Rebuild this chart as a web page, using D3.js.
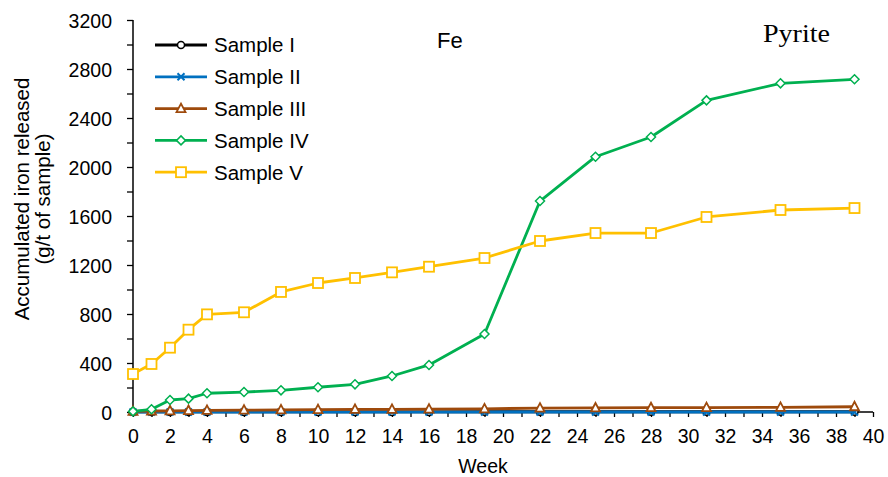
<!DOCTYPE html>
<html>
<head>
<meta charset="utf-8">
<script src="https://cdn.jsdelivr.net/npm/d3@7/dist/d3.min.js"></script>
<style>
  html, body { margin: 0; padding: 0; background: #fff; }
  svg { display: block; }
  text { font-family: "Liberation Sans", Arial, sans-serif; fill: #000; }
</style>
</head>
<body>
<svg id="chart" width="888" height="477"></svg>
<script>
// Sampling weeks
const weeks = [0, 1, 2, 3, 4, 6, 8, 10, 12, 14, 16, 19, 22, 25, 28, 31, 35, 39];

// Accumulated iron released (g/t of sample) per sample
const sampleI   = [1, 1, 1, 1, 1, 1, 1, 1, 1, 1, 1, 2, 2, 2, 2, 2, 2, 2];
const sampleII  = [0, 0, 0, 0, 0, 0, 0, 0, 0, 0, 0, 0, 0, 0, 0, 0, 0, 0];
const sampleIII = [5, 8, 10, 12, 13, 15, 17, 19, 21, 22, 23, 26, 32, 33, 35, 36, 38, 43];
const sampleIV  = [5, 22, 98, 109, 153, 163, 177, 202, 226, 294, 384, 637, 1722, 2084, 2245, 2544, 2683, 2716];
const sampleV   = [310, 392, 525, 672, 797, 814, 980, 1053, 1094, 1140, 1186, 1257, 1396, 1461, 1461, 1592, 1649, 1665];

// Axis ticks
const yTicks = [0, 400, 800, 1200, 1600, 2000, 2400, 2800, 3200];
const xTicks = [0, 2, 4, 6, 8, 10, 12, 14, 16, 18, 20, 22, 24, 26, 28, 30, 32, 34, 36, 38, 40];

const seriesNames = ["Sample I", "Sample II", "Sample III", "Sample IV", "Sample V"];
const seriesValues = [sampleI, sampleII, sampleIII, sampleIV, sampleV];
const seriesColors = ["#000000", "#0070C0", "#9E4A0C", "#00B050", "#FFC000"];
const seriesMarkers = ["circle", "cross", "triangle", "diamond", "square"];

const svg = d3.select("#chart");
const plotLeft = 133, plotRight = 873, plotTop = 20, plotBottom = 412;

const x = d3.scaleLinear().domain([0, 40]).range([plotLeft, plotRight]);
const y = d3.scaleLinear().domain([0, 3200]).range([plotBottom, plotTop]);

// Y axis with minor ticks every 200
const yAxis = d3.axisLeft(y).tickValues(d3.range(0, 3201, 200)).tickSize(6)
  .tickFormat(d => yTicks.includes(d) ? d : "");
const gy = svg.append("g").attr("transform", `translate(${plotLeft},0)`).call(yAxis);
gy.select(".domain").attr("stroke", "#000").attr("stroke-width", 1.5).attr("d", `M0,${plotBottom}V${plotTop}`);
gy.selectAll(".tick line").attr("stroke", "#000").attr("stroke-width", 1.3);
gy.selectAll(".tick text").attr("x", -21).attr("dy", "0.36em")
  .style("font-size", "19.5px").style("font-family", "Liberation Sans, Arial, sans-serif");

// X axis with ticks every week
const xAxis = d3.axisBottom(x).tickValues(d3.range(0, 41, 1)).tickSize(5)
  .tickFormat(d => xTicks.includes(d) ? d : "");
const gx = svg.append("g").attr("transform", `translate(0,${plotBottom})`).call(xAxis);
gx.select(".domain").attr("stroke", "#000").attr("stroke-width", 1.5).attr("d", `M${plotLeft},0H${plotRight}`);
gx.selectAll(".tick line").attr("stroke", "#000").attr("stroke-width", 1.3);
gx.selectAll(".tick text").attr("y", 31).attr("dy", "0")
  .style("font-size", "19.5px").style("font-family", "Liberation Sans, Arial, sans-serif");

// Axis titles
svg.append("text").attr("x", 483).attr("y", 473).attr("text-anchor", "middle")
  .style("font-size", "19.5px").text("Week");
const yt = svg.append("text").attr("transform", "translate(0,199) rotate(-90)")
  .attr("text-anchor", "middle").style("font-size", "20.5px");
yt.append("tspan").attr("x", 0).attr("y", 29).text("Accumulated iron released");
yt.append("tspan").attr("x", 0).attr("y", 50).text("(g/t of sample)");

// Marker drawing
function drawMarker(g, type, color) {
  if (type === "circle") {
    g.append("circle").attr("r", 3.5).attr("fill", "#fff").attr("stroke", color).attr("stroke-width", 1.5);
  } else if (type === "cross") {
    g.append("path").attr("d", "M-3.5,-3.5L3.5,3.5M-3.5,3.5L3.5,-3.5")
      .attr("stroke", color).attr("stroke-width", 2).attr("fill", "none");
  } else if (type === "triangle") {
    g.append("path").attr("d", "M0,-5L4.5,3.5L-4.5,3.5Z")
      .attr("fill", "#fff").attr("stroke", color).attr("stroke-width", 1.8);
  } else if (type === "diamond") {
    g.append("path").attr("d", "M0,-4.5L4.5,0L0,4.5L-4.5,0Z")
      .attr("fill", "#fff").attr("stroke", color).attr("stroke-width", 1.5);
  } else if (type === "square") {
    g.append("rect").attr("x", -5).attr("y", -5).attr("width", 10).attr("height", 10)
      .attr("fill", "#fff").attr("stroke", color).attr("stroke-width", 1.8);
  }
}

const line = d3.line().x(d => x(d[0])).y(d => y(d[1]));

seriesValues.forEach((vals, i) => {
  const pts = weeks.map((w, j) => [w, vals[j]]);
  svg.append("path").datum(pts).attr("d", line)
    .attr("fill", "none").attr("stroke", seriesColors[i]).attr("stroke-width", 2.8)
    .attr("stroke-linejoin", "round");
  pts.forEach(p => {
    const g = svg.append("g").attr("transform", `translate(${x(p[0])},${y(p[1])})`);
    drawMarker(g, seriesMarkers[i], seriesColors[i]);
  });
});

// Legend
const legend = svg.append("g");
seriesNames.forEach((name, i) => {
  const cy = 45 + i * 31.8;
  legend.append("line").attr("x1", 155).attr("x2", 207).attr("y1", cy).attr("y2", cy)
    .attr("stroke", seriesColors[i]).attr("stroke-width", 2.8);
  const g = legend.append("g").attr("transform", `translate(181,${cy})`);
  drawMarker(g, seriesMarkers[i], seriesColors[i]);
  legend.append("text").attr("x", 214).attr("y", cy).attr("dy", "0.36em")
    .style("font-size", "20.5px").text(name);
});

// Panel labels
svg.append("text").attr("x", 437).attr("y", 48).style("font-size", "22px").text("Fe");
svg.append("text").attr("x", 763).attr("y", 42).attr("textLength", 67).attr("lengthAdjust", "spacingAndGlyphs")
  .style("font-family", "Liberation Serif, 'DejaVu Serif', serif").style("font-size", "26px").text("Pyrite");
</script>
</body>
</html>
